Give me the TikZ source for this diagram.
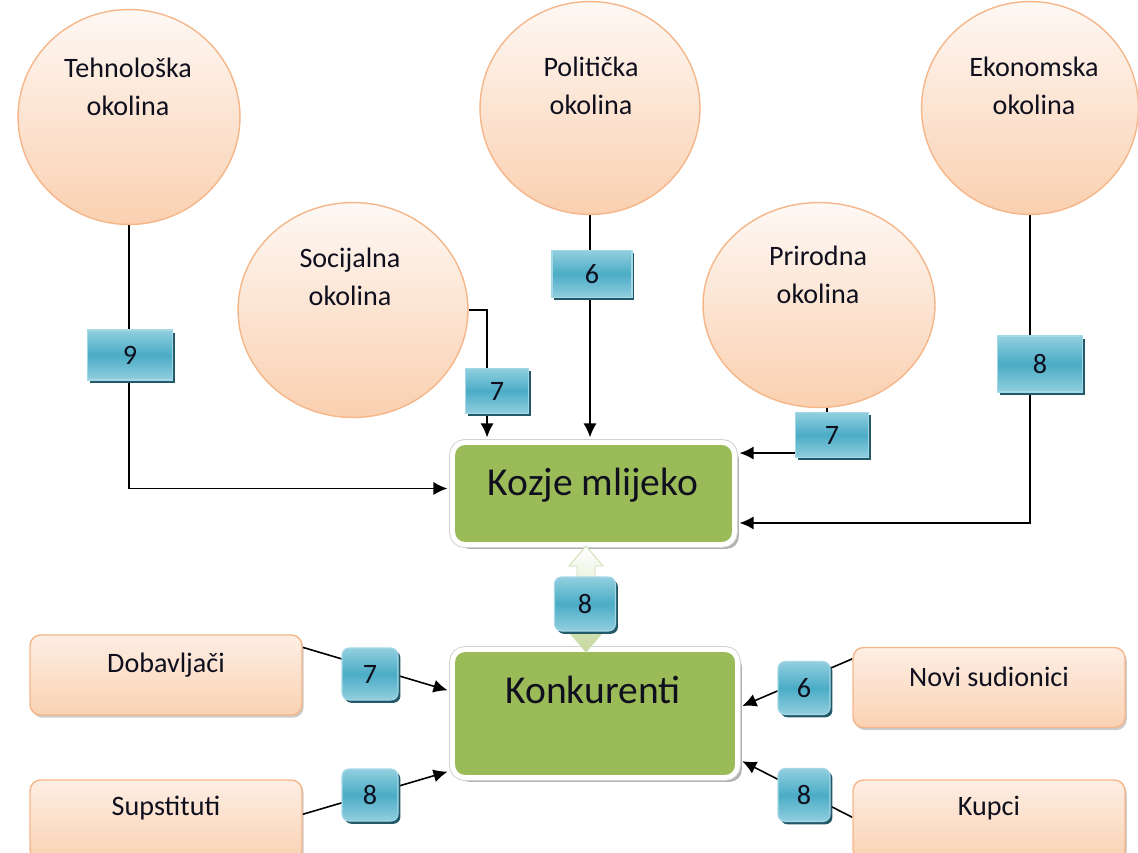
\documentclass[tikz,border=0pt]{standalone}
\usepackage{fontspec}
\setmainfont{Carlito}
\usetikzlibrary{shapes.geometric,arrows.meta,shadows,calc,backgrounds}

\definecolor{peachline}{RGB}{245,182,138}
\definecolor{peachtop}{RGB}{254,248,244}
\definecolor{peachbot}{RGB}{250,208,176}
\definecolor{otop}{RGB}{253,238,228}
\definecolor{obot}{RGB}{250,210,178}
\definecolor{btop}{RGB}{145,207,223}
\definecolor{bmid}{RGB}{75,172,198}
\definecolor{bline}{RGB}{165,215,230}
\definecolor{bshadow}{RGB}{35,90,105}
\definecolor{kgreen}{RGB}{155,187,89}
\definecolor{lgreen}{RGB}{198,216,158}
\definecolor{lgline}{RGB}{205,222,175}
\definecolor{txt}{RGB}{15,15,30}

\begin{document}
\begin{tikzpicture}[x=0.02cm,y=-0.02cm,
  circ/.style={ellipse, draw=peachline, line width=0.8pt, top color=peachtop, bottom color=peachbot, inner sep=0},
  ctext/.style={align=center, font=\fontsize{16}{21.5}\selectfont, text=txt, inner sep=0},
  otext/.style={font=\fontsize{16}{19}\selectfont, text=txt, inner sep=0},
  btext/.style={font=\fontsize{22.5}{26}\selectfont, text=txt, inner sep=0},
  orect/.style={rectangle, rounded corners=6pt, draw=peachline, line width=0.8pt, top color=otop, bottom color=obot,
    drop shadow={shadow xshift=1pt, shadow yshift=-1.5pt, opacity=0.2, fill=black}, inner sep=0,
    minimum width=5.44cm, minimum height=1.6cm},
  nbox/.style={rectangle, draw=bline, line width=0.6pt, top color=btop, bottom color=btop, middle color=bmid,
    drop shadow={shadow xshift=1.4pt, shadow yshift=-1.6pt, fill=bshadow, opacity=1},
    font=\fontsize{16}{19}\selectfont, text=txt, inner sep=0},
  rbox/.style={nbox, rounded corners=4pt},
  gbox/.style={rectangle, rounded corners=7pt, drop shadow={shadow xshift=2.5pt, shadow yshift=-2.5pt, opacity=0.3, fill=black},
    preaction={draw=black!18, line width=3.9pt}, fill=kgreen, draw=white, line width=2.8pt, inner sep=0},
  arr/.style={draw=black, line width=0.9pt, -{Latex[length=8pt,width=7.5pt]}, shorten >=1.5pt},
]
\useasboundingbox (0,0) rectangle (1138,852);

% environment circles
\node[circ, minimum width=4.44cm, minimum height=4.3cm] (teh) at (129,117) {};
\node[ctext] (tehT) at (128,87) {Tehnološka\\okolina};
\node[circ, minimum width=4.4cm, minimum height=4.26cm] (pol) at (590,108) {};
\node[ctext] (polT) at (591,86) {Politička\\okolina};
\node[circ, minimum width=4.34cm, minimum height=4.26cm] (eko) at (1030,108) {};
\node[ctext] (ekoT) at (1034,86) {Ekonomska\\okolina};
\node[circ, minimum width=4.6cm, minimum height=4.3cm] (soc) at (353,310) {};
\node[ctext] (socT) at (350,277) {Socijalna\\okolina};
\node[circ, minimum width=4.64cm, minimum height=4.1cm] (pri) at (819,305) {};
\node[ctext] (priT) at (818,275) {Prirodna\\okolina};

% central boxes
\node[gbox, minimum width=5.64cm, minimum height=2.04cm] (koz) at (593.5,493.5) {};
\node[btext] (kozT) at (593,485) {Kozje mlijeko};
\node[gbox, minimum width=5.7cm, minimum height=2.56cm] (kon) at (595,713.5) {};
\node[btext] (konT) at (593,690) {Konkurenti};

% competitive forces
\node[orect] (dob) at (166,675) {};
\node[otext] (dobT) at (166,665) {Dobavljači};
\node[orect] (sup) at (166,820) {};
\node[otext] (supT) at (166,808) {Supstituti};
\node[orect] (nov) at (989,687.5) {};
\node[otext] (novT) at (989,677) {Novi sudionici};
\node[orect] (kup) at (989,820) {};
\node[otext] (kupT) at (989,808) {Kupci};

% double block arrow between the green boxes
\path[draw=lgline, line width=0.5pt, top color=white, bottom color=lgreen]
  (586,546) -- (603,566) -- (595,566) -- (595,632) -- (603,632) -- (586,652)
  -- (569,632) -- (577,632) -- (577,566) -- (569,566) -- cycle;

% number boxes
\node[nbox, minimum width=1.7cm, minimum height=1.0cm] (n9) at (130,355) {9};
\node[nbox, minimum width=1.6cm, minimum height=0.94cm] (n6) at (592,274) {6};
\node[nbox, minimum width=1.26cm, minimum height=0.9cm] (n7s) at (497,391) {7};
\node[nbox, minimum width=1.46cm, minimum height=0.9cm] (n7p) at (832,435) {7};
\node[nbox, minimum width=1.7cm, minimum height=1.12cm] (n8e) at (1040,364) {8};
\node[rbox, minimum width=1.22cm, minimum height=1.08cm] (n8m) at (585,604) {8};
\node[rbox, minimum width=1.12cm, minimum height=1.04cm] (n7d) at (370,674) {7};
\node[rbox, minimum width=1.12cm, minimum height=1.04cm] (n8s) at (370,795) {8};
\node[rbox, minimum width=1.04cm, minimum height=1.06cm] (n6n) at (804,688) {6};
\node[rbox, minimum width=1.04cm, minimum height=1.06cm] (n8k) at (804,795) {8};

% connectors
\begin{scope}[on background layer]
\draw[arr] (teh.south) |- ($(koz.west)+(0,-5)$);
\draw[arr] (soc.east) -| ($(koz.north west)+(37,0)$);
\draw[arr] (pol.south) -- (pol.south |- koz.north);
\draw[arr] ($(pri.south)+(8,0)$) |- ($(koz.north east)+(0,13)$);
\draw[arr] (eko.south) |- ($(koz.south east)+(0,-24)$);
\draw[arr] ($(dob.north east)+(0,13)$) -- ($(kon.north west)+(0,44)$);
\draw[arr] ($(sup.north east)+(0,35)$) -- ($(kon.south west)+(0,-9)$);
\draw[arr] ($(nov.north west)+(0,12)$) -- ($(kon.north east)+(0,60)$);
\draw[arr] ($(kup.north west)+(0,38)$) -- ($(kon.south east)+(0,-20)$);
\end{scope}
\end{tikzpicture}
\end{document}
